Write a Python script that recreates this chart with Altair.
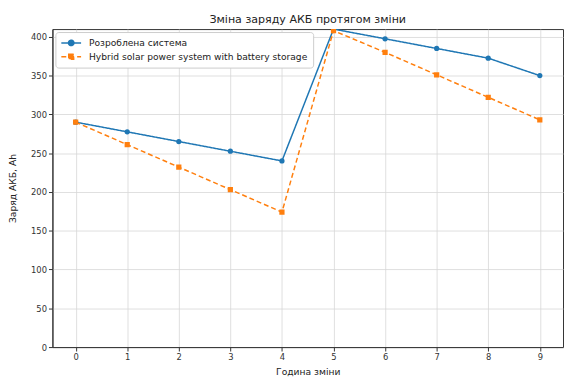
import altair as alt
import pandas as pd

# ---- data ----
hours = [0, 1, 2, 3, 4, 5, 6, 7, 8, 9]
developed_system = [290, 277.5, 265, 252.5, 240, 410, 397.5, 385, 372.5, 350]
hybrid_system = [290, 261, 232, 203, 174, 408, 380, 351, 322, 293]
series_names = ["Розроблена система", "Hybrid solar power system with battery storage"]
series_colors = ["#1f77b4", "#ff7f0e"]
x_tick_values = [0, 1, 2, 3, 4, 5, 6, 7, 8, 9]
y_tick_values = [0, 50, 100, 150, 200, 250, 300, 350, 400]

df = pd.DataFrame({
    "hour": hours + hours,
    "charge": developed_system + hybrid_system,
    "series": [series_names[0]] * len(hours) + [series_names[1]] * len(hours),
})

FONT = "DejaVu Sans"

# legend symbols: line segment plus marker
path_circle = "M-2,0L2,0M-0.55,0A0.55,0.55,0,1,0,0.55,0A0.55,0.55,0,1,0,-0.55,0Z"
path_square = "M-2,0L2,0M-0.5,-0.5L0.5,-0.5L0.5,0.5L-0.5,0.5Z"

legend = alt.Legend(
    title=None,
    orient="top-left",
    offset=3,
    padding=5,
    fillColor="white",
    strokeColor="#cccccc",
    cornerRadius=3,
    labelFont=FONT,
    labelFontSize=9.25,
    labelColor="#222222",
    labelLimit=400,
    symbolSize=100,
    symbolStrokeWidth=1.5,
    symbolOffset=5,
    labelOffset=12,
    rowPadding=2,
)

x_enc = alt.X(
    "hour:Q",
    scale=alt.Scale(domain=[-0.45, 9.45], nice=False, zero=False),
    axis=alt.Axis(values=x_tick_values, title="Година зміни", format="d"),
)
y_enc = alt.Y(
    "charge:Q",
    scale=alt.Scale(domain=[0, 410], nice=False),
    axis=alt.Axis(values=y_tick_values, title="Заряд АКБ, Ah", titleX=-40.5, titleBaseline="middle"),
)
color_enc = alt.Color(
    "series:N",
    scale=alt.Scale(domain=series_names, range=series_colors),
    legend=legend,
)

base = alt.Chart(df)

lines = base.mark_line(strokeWidth=1.5, clip=True).encode(
    strokeDash=alt.StrokeDash(
        "series:N",
        scale=alt.Scale(domain=series_names, range=[[1, 0], [5, 3]]),
        legend=legend,
    )
)
circles = base.transform_filter(
    alt.datum.series == series_names[0]
).mark_point(shape="circle", filled=True, size=28, opacity=1, clip=True)
squares = base.transform_filter(
    alt.datum.series == series_names[1]
).mark_point(shape="square", filled=True, size=28, opacity=1, clip=True)
legend_keys = base.transform_filter("false").mark_point(filled=True).encode(
    shape=alt.Shape(
        "series:N",
        scale=alt.Scale(domain=series_names, range=[path_circle, path_square]),
        legend=legend,
    )
)

chart = (
    alt.layer(lines, circles, squares, legend_keys)
    .encode(x=x_enc, y=y_enc, color=color_enc)
    .properties(
        width=517,
        height=322,
        padding={"left": 45, "top": 19, "right": 1, "bottom": 31},
        autosize=alt.AutoSizeParams(type="none"),
        title=alt.TitleParams(
            "Зміна заряду АКБ протягом зміни",
            anchor="middle",
            frame="group",
            font=FONT,
            fontSize=11.2,
            fontWeight="normal",
            color="#222222",
            offset=4,
        ),
    )
    .configure_view(stroke="#333333", strokeWidth=1)
    .configure_axis(
        labelFont=FONT,
        labelFontSize=8.5,
        labelColor="#333333",
        titleFont=FONT,
        titleFontSize=9.3,
        titleFontWeight="normal",
        titleColor="#222222",
        gridColor="#d6d6d6",
        gridWidth=0.8,
        domainColor="#333333",
        domainWidth=1,
        tickColor="#333333",
        tickSize=4,
        labelPadding=2,
    )
    .configure_axisX(titlePadding=6, labelAngle=0)
)

chart.save("out.html", embed_options={"renderer": "svg", "actions": False})
